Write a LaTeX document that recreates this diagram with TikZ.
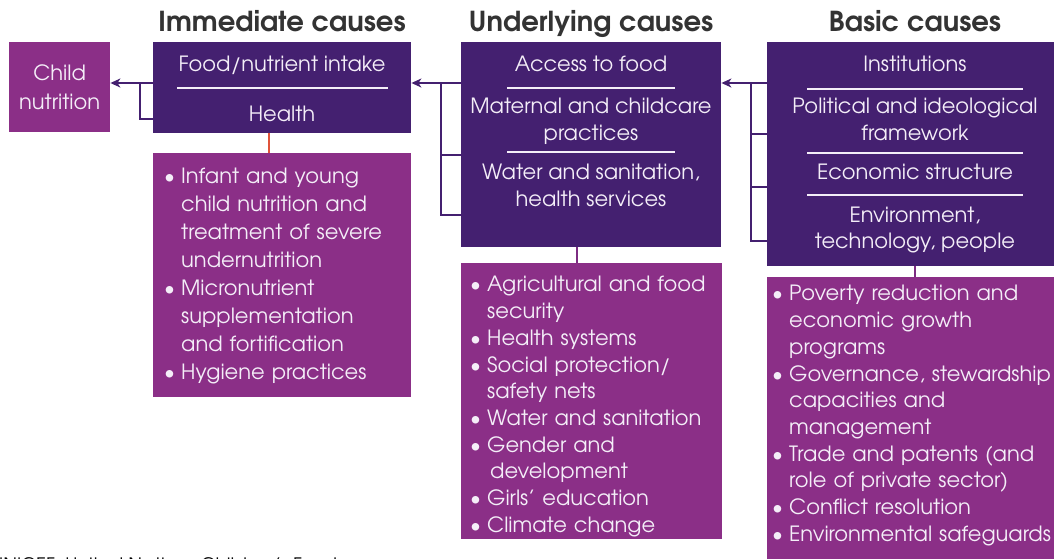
\documentclass[tikz,border=0pt]{standalone}
\usepackage{fontspec}
\setmainfont{texgyreadventor}[Extension=.otf, UprightFont=*-regular, BoldFont=*-bold, ItalicFont=*-italic, BoldItalicFont=*-bolditalic]
\usetikzlibrary{arrows.meta,positioning}
\definecolor{causedark}{HTML}{442070}
\definecolor{causelist}{HTML}{8B2F87}
\definecolor{causetext}{HTML}{F4EEF8}
\definecolor{headgray}{HTML}{333333}
\definecolor{healthline}{HTML}{E0533A}
\tikzset{
    %Define style for the cause boxes
    causebox/.style={
           rectangle,
           fill=causedark,
           draw=none,
           inner sep=0pt,
           anchor=north west},
    listbox/.style={
           causebox,
           fill=causelist},
    boxtext/.style={
           text=causetext,
           align=center,
           inner sep=0pt,
           font=\fontsize{21}{27}\selectfont},
    listtext/.style={
           boxtext,
           anchor=north west,
           align=left,
           text width=280pt,
           font=\fontsize{21}{26.7}\selectfont},
    header/.style={
           text=headgray,
           inner sep=0pt,
           anchor=base,
           font=\bfseries\fontsize{27.5}{30}\selectfont},
    sepline/.style={draw=causetext, line width=2pt},
    causeline/.style={draw=causedark, line width=2pt}
}
\newcommand{\bitem}{\par\hangindent=15pt\hangafter=1\noindent\makebox[15pt][l]{\hspace*{-2pt}\textbullet}}

\begin{document}
\begin{tikzpicture}[x=1pt, y=-1pt, >={Stealth[length=10pt,width=9pt,inset=3pt]}]
\useasboundingbox (0,0) rectangle (1054,558);
% headers
\node[header] (immhead) at (282,31) {Immediate causes};
\node[header] (undhead) at (591,31) {Underlying causes};
\node[header] (bashead) at (915,31) {Basic causes};
% outcome
\node[listbox, boxtext, font=\fontsize{21}{29}\selectfont, minimum width=101pt, minimum height=90pt] (child) at (9,42) {Child\\nutrition};
% immediate causes
\node[causebox, minimum width=258pt, minimum height=91pt] (immbox) at (153,42) {};
\node[boxtext, anchor=base] (food) at (282,71) {Food/nutrient intake};
\draw[sepline] (177,88) -- (388,88);
\node[boxtext, anchor=base] (health) at (282,121) {Health};
% underlying causes
\node[causebox, minimum width=260pt, minimum height=205pt] (undbox) at (461,42) {};
\node[boxtext, anchor=base] (access) at (591,71) {Access to food};
\draw[sepline] (507,88) -- (675,88);
\node[boxtext, anchor=base] (care) at (591,140) {Maternal and childcare\\practices};
\draw[sepline] (507,152) -- (675,152);
\node[boxtext, anchor=base] (wash) at (591,206) {Water and sanitation,\\health services};
% basic causes
\node[causebox, minimum width=300pt, minimum height=224pt] (basbox) at (767,42) {};
\node[boxtext, anchor=base] (inst) at (915,71) {Institutions};
\draw[sepline] (807,89) -- (1023,89);
\node[boxtext, anchor=base] (polit) at (915,140) {Political and ideological\\framework};
\draw[sepline] (807,153) -- (1023,153);
\node[boxtext, anchor=base] (econ) at (915,179) {Economic structure};
\draw[sepline] (807,195) -- (1023,195);
\node[boxtext, anchor=base, font=\fontsize{21}{26}\selectfont] (envir) at (915,248) {Environment,\\technology, people};
% interventions
\node[listbox, minimum width=258pt, minimum height=244pt] (immlist) at (153,153) {};
\node[listtext, font=\fontsize{21}{28}\selectfont] (immitems) at (166,155) {\bitem Infant and young\newline child nutrition and\newline treatment of severe\newline undernutrition
\bitem Micronutrient\newline supplementation\newline and fortification
\bitem Hygiene practices};
\node[listbox, minimum width=261pt, minimum height=276pt] (undlist) at (461,263) {};
\node[listtext] (unditems) at (472,265) {\bitem Agricultural and food\newline security
\bitem Health systems
\bitem Social protection/\newline safety nets
\bitem Water and sanitation
\bitem Gender and\newline\hspace*{3pt}development
\bitem Girls' education
\bitem Climate change};
\node[listbox, minimum width=300pt, minimum height=300pt] (baslist) at (767,277) {};
\node[listtext, text width=320pt] (basitems) at (774,274) {\bitem Poverty reduction and\newline economic growth\newline programs
\bitem Governance, stewardship\newline capacities and\newline management
\bitem Trade and patents (and\newline role of private sector)
\bitem Conflict resolution
\bitem Environmental safeguards};
% connectors
\coordinate (immjoin) at (140,83);
\coordinate (immfoot) at (140,119);
\draw[causeline,->] (immbox.west |- immjoin) -- (child.east |- immjoin);
\draw[causeline] (immjoin) -- (immfoot) -- (immfoot -| immbox.west);
\coordinate (undjoin) at (441,83);
\coordinate (undmid) at (441,155);
\coordinate (undfoot) at (441,215);
\draw[causeline,->] (undbox.west |- undjoin) -- (immbox.east |- undjoin);
\draw[causeline] (undjoin) -- (undfoot) -- (undfoot -| undbox.west);
\draw[causeline] (undmid) -- (undmid -| undbox.west);
\coordinate (basjoin) at (751,83);
\coordinate (basmid) at (751,134);
\coordinate (basmidb) at (751,187);
\coordinate (basfoot) at (751,241);
\draw[causeline,->] (basbox.west |- basjoin) -- (undbox.east |- basjoin);
\draw[causeline] (basjoin) -- (basfoot) -- (basfoot -| basbox.west);
\draw[causeline] (basmid) -- (basmid -| basbox.west);
\draw[causeline] (basmidb) -- (basmidb -| basbox.west);
\coordinate (immdrop) at (269,0);
\coordinate (unddrop) at (577,0);
\coordinate (basdrop) at (915,0);
\draw[draw=healthline, line width=2pt] (immdrop |- immbox.south) -- (immdrop |- immlist.north);
\draw[draw=causelist!80!causedark, line width=2pt] (unddrop |- undbox.south) -- (unddrop |- undlist.north);
\draw[draw=causelist!80!causedark, line width=2pt] (basdrop |- basbox.south) -- (basdrop |- baslist.north);
% footnote
\node[anchor=base west, inner sep=0pt, font=\fontsize{18.5}{20}\selectfont] (note) at (-9,571) {UNICEF: United Nations Children's Fund};
\end{tikzpicture}
\end{document}
